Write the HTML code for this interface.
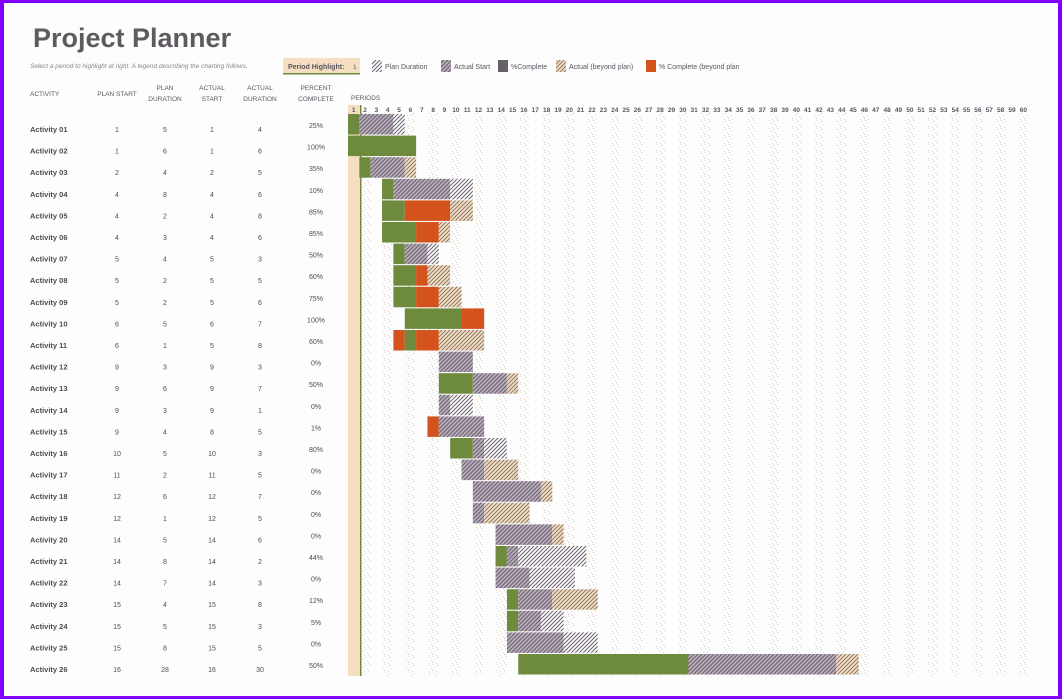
<!DOCTYPE html>
<html><head><meta charset="utf-8">
<style>
html,body{margin:0;padding:0;background:#fff}
body{width:1062px;height:699px;overflow:hidden;position:relative}
svg{position:absolute;left:0;top:0}
text{font-family:"Liberation Sans",sans-serif}
</style></head><body>
<svg id="s" width="1062" height="699" viewBox="0 0 1062 699" xmlns="http://www.w3.org/2000/svg">
<defs>
<pattern id="dots" width="8" height="8" patternUnits="userSpaceOnUse">
<rect x="1" y="0" width="1" height="1" fill="#f3d2b0"/><rect x="5" y="1" width="1" height="1" fill="#cbbfd2"/>
<rect x="3" y="3" width="1" height="1" fill="#f3d2b0"/><rect x="7" y="4" width="1" height="1" fill="#f3d2b0"/>
<rect x="0" y="6" width="1" height="1" fill="#cbbfd2"/><rect x="4" y="7" width="1" height="1" fill="#f3d2b0"/>
</pattern>
<pattern id="hg" width="4" height="4" patternUnits="userSpaceOnUse"><rect width="4" height="4" fill="#b9adb9"/><path d="M-1,1 l2,-2 M0,4 l4,-4 M3,5 l2,-2" stroke="#6a6070" stroke-width="1"/></pattern>
<pattern id="hw" width="4" height="4" patternUnits="userSpaceOnUse"><rect width="4" height="4" fill="#fff"/><path d="M-1,1 l2,-2 M0,4 l4,-4 M3,5 l2,-2" stroke="#6a6070" stroke-width="1"/></pattern>
<pattern id="hb" width="4" height="4" patternUnits="userSpaceOnUse"><rect width="4" height="4" fill="#f5ddc0"/><path d="M-1,1 l2,-2 M0,4 l4,-4 M3,5 l2,-2" stroke="#8a7a70" stroke-width="1"/></pattern>
</defs>
<rect x="0" y="0" width="1062" height="699" fill="#7f00ff"/>
<rect x="4" y="3" width="1054" height="693" fill="#fdfdfd"/>
<text x="33" y="47" font-size="27" font-weight="bold" fill="#5f5a60">Project Planner</text>
<text x="30" y="68" font-size="6.5" font-style="italic" fill="#8a8490">Select a period to highlight at right.  A legend describing the charting follows.</text>
<rect x="283" y="58" width="77" height="16" fill="#f6dfc0"/><rect x="283" y="73" width="77" height="1.5" fill="#6e8b3d"/>
<text x="288" y="69" font-size="7" font-weight="bold" fill="#5a5560">Period Highlight:</text>
<text x="353" y="69" font-size="6.5" fill="#5a5560">1</text>
<g id="leg"></g>
<g id="hdr" font-size="6.5" fill="#5a5560" text-anchor="middle">
<text x="30" y="96" text-anchor="start">ACTIVITY</text>
<text x="117" y="96">PLAN START</text>
<text x="165" y="90">PLAN</text><text x="165" y="101">DURATION</text>
<text x="212" y="90">ACTUAL</text><text x="212" y="101">START</text>
<text x="260" y="90">ACTUAL</text><text x="260" y="101">DURATION</text>
<text x="316" y="90">PERCENT</text><text x="316" y="101">COMPLETE</text>
<text x="351" y="100" text-anchor="start">PERIODS</text>
</g>
<g id="g"></g>
</svg>
<script>
var NS="http://www.w3.org/2000/svg",g=document.getElementById('g'),leg=document.getElementById('leg');
function el(p,t,a,txt){var e=document.createElementNS(NS,t);for(var k in a)e.setAttribute(k,a[k]);if(txt!=null)e.textContent=txt;p.appendChild(e);return e;}
function X(p){return 348+(p-1)*11.35;}
var L=[[372,'hw','Plan Duration'],[441,'hg','Actual Start'],[498,'#686068','%Complete'],[556,'hb','Actual (beyond plan)'],[646,'#d4531c','% Complete (beyond plan']];
L.forEach(function(l){el(leg,'rect',{x:l[0],y:60,width:10,height:12,fill:l[1].charAt(0)=='#'?l[1]:'url(#'+l[1]+')'});el(leg,'text',{x:l[0]+13,y:69,'font-size':7,fill:'#5a5560'},l[2]);});
var top0=105,bot=676;
for(var p=2;p<=60;p+=2){el(g,'rect',{x:X(p)+1,y:top0+8,width:X(p+1)-X(p)-2,height:bot-top0-8,fill:'url(#dots)'});}
el(g,'rect',{x:348,y:top0,width:13,height:bot-top0,fill:'#f6dfc0'});
el(g,'rect',{x:360,y:top0,width:1.5,height:bot-top0,fill:'#6e8b3d'});
for(var p=1;p<=60;p++){el(g,'text',{x:(X(p)+X(p+1))/2,y:112,'font-size':6.5,'font-weight':'bold',fill:'#5a5560','text-anchor':'middle'},p);}
var D=[["01",1,5,1,4,"25%"],["02",1,6,1,6,"100%"],["03",2,4,2,5,"35%"],["04",4,8,4,6,"10%"],["05",4,2,4,8,"85%"],["06",4,3,4,6,"85%"],["07",5,4,5,3,"50%"],["08",5,2,5,5,"60%"],["09",5,2,5,6,"75%"],["10",6,5,6,7,"100%"],["11",6,1,5,8,"60%"],["12",9,3,9,3,"0%"],["13",9,6,9,7,"50%"],["14",9,3,9,1,"0%"],["15",9,4,8,5,"1%"],["16",10,5,10,3,"80%"],["17",11,2,11,5,"0%"],["18",12,6,12,7,"0%"],["19",12,1,12,5,"0%"],["20",14,5,14,6,"0%"],["21",14,8,14,2,"44%"],["22",14,7,14,3,"0%"],["23",15,4,15,8,"12%"],["24",15,5,15,3,"5%"],["25",15,8,15,5,"0%"],["26",16,28,16,30,"50%"]];
var G='#6e8b3d',O='#d4531c',GR='url(#hg)',W='url(#hw)',B='url(#hb)';
var S=[
[[1,1,G],[2,4,GR],[5,5,W]],
[[1,6,G]],
[[2,2,G],[3,5,GR],[6,6,B]],
[[4,4,G],[5,9,GR],[10,11,W]],
[[4,5,G],[6,9,O],[10,11,B]],
[[4,6,G],[7,8,O],[9,9,B]],
[[5,5,G],[6,7,GR],[8,8,W]],
[[5,6,G],[7,7,O],[8,9,B]],
[[5,6,G],[7,8,O],[9,10,B]],
[[6,10,G],[11,12,O]],
[[5,5,O],[6,6,G],[7,8,O],[9,12,B]],
[[9,11,GR]],
[[9,11,G],[12,14,GR],[15,15,B]],
[[9,9,GR],[10,11,W]],
[[8,8,O],[9,12,GR]],
[[10,11,G],[12,12,GR],[13,14,W]],
[[11,12,GR],[13,15,B]],
[[12,17,GR],[18,18,B]],
[[12,12,GR],[13,16,B]],
[[14,18,GR],[19,19,B]],
[[14,14,G],[15,15,GR],[16,21,W]],
[[14,16,GR],[17,20,W]],
[[15,15,G],[16,18,GR],[19,22,B]],
[[15,15,G],[16,17,GR],[18,19,W]],
[[15,19,GR],[20,22,W]],
[[16,30,G],[31,43,GR],[44,45,B]]];
for(var i=0;i<26;i++){
 var y=113+i*21.6, d=D[i], cy=y+19;
 S[i].forEach(function(s){el(g,'rect',{x:X(s[0]),y:y+1,width:X(s[1]+1)-X(s[0]),height:20.5,fill:s[2]});});
 el(g,'text',{x:30,y:cy,'font-size':7.5,'font-weight':'bold',fill:'#4e4a52'},'Activity '+d[0]);
 [[117,d[1]],[165,d[2]],[212,d[3]],[260,d[4]]].forEach(function(c){el(g,'text',{x:c[0],y:cy,'font-size':7,fill:'#4e4a52','text-anchor':'middle'},c[1]);});
 el(g,'text',{x:316,y:cy-4,'font-size':7,fill:'#4e4a52','text-anchor':'middle'},d[5]);
}
</script>
</body></html>
